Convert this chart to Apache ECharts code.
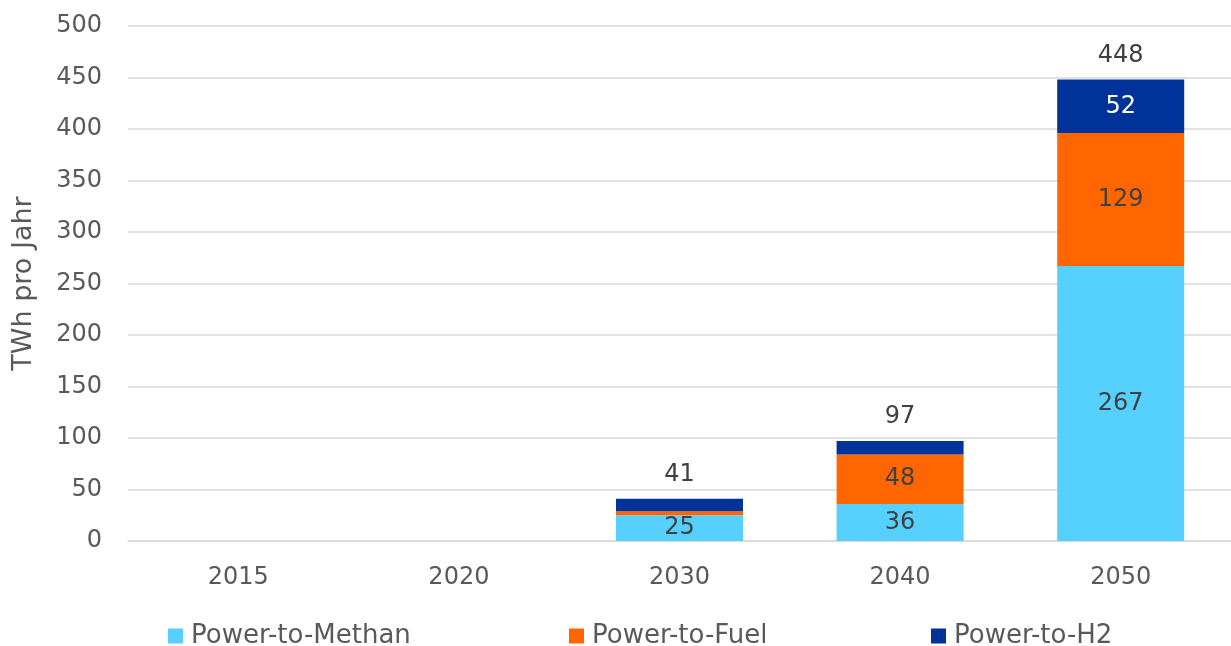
<!DOCTYPE html>
<html>
<head>
<meta charset="utf-8">
<script src="https://cdn.jsdelivr.net/npm/echarts@6/dist/echarts.min.js"></script>
<style>
  html, body { margin: 0; padding: 0; background: #fff; }
  #chart { width: 1231px; height: 646px; }
</style>
</head>
<body>
<div id="chart"></div>
<script>
const years = ['2015', '2020', '2030', '2040', '2050'];
const methan = [0, 0, 25, 36, 267];
const fuel = [0, 0, 4, 48, 129];
const h2 = [0, 0, 12, 13, 52];
const totals = [0, 0, 41, 97, 448];
const yTicks = [0, 50, 100, 150, 200, 250, 300, 350, 400, 450, 500];

const font = 'DejaVu Sans';
const grey = '#595959';
const dark = '#404040';

const legendItem = (name, left) => ({
  data: [name],
  left: left,
  top: 618,
  itemWidth: 15,
  itemHeight: 15,
  itemGap: 0,
  icon: 'rect',
  selectedMode: false,
  textStyle: { fontFamily: font, fontSize: 26, color: grey, padding: [0, 0, 0, 3] },
});

const chart = echarts.init(document.getElementById('chart'), null, { renderer: 'canvas' });

chart.setOption({
  animation: false,
  grid: { left: 128, right: 0, top: 26, bottom: 105, containLabel: false },
  legend: [
    legendItem('Power-to-Methan', 163),
    legendItem('Power-to-Fuel', 564),
    legendItem('Power-to-H2', 926),
  ],
  xAxis: {
    type: 'category',
    data: years,
    axisTick: { show: false },
    axisLine: { lineStyle: { color: '#d9d9d9', width: 1.5 } },
    axisLabel: { fontFamily: font, fontSize: 24, color: grey, margin: 25 },
  },
  yAxis: {
    type: 'value',
    min: yTicks[0],
    max: yTicks[yTicks.length - 1],
    interval: 50,
    name: 'TWh pro Jahr',
    nameLocation: 'middle',
    nameGap: 91,
    nameTextStyle: { fontFamily: font, fontSize: 27, color: grey },
    axisLine: { show: false },
    axisTick: { show: false },
    splitLine: { lineStyle: { color: '#d9d9d9', width: 1.5 } },
    axisLabel: { fontFamily: font, fontSize: 24, color: grey, margin: 26 },
  },
  series: [
    {
      name: 'Power-to-Methan',
      type: 'bar',
      stack: 'total',
      barWidth: 127,
      data: methan,
      itemStyle: { color: '#55d0ff' },
      label: {
        show: true,
        position: 'inside',
        fontFamily: font, fontSize: 24, color: dark,
        formatter: p => (p.value >= 10 ? p.value : ''),
      },
    },
    {
      name: 'Power-to-Fuel',
      type: 'bar',
      stack: 'total',
      data: fuel,
      itemStyle: { color: '#ff6600' },
      label: {
        show: true,
        position: 'inside',
        fontFamily: font, fontSize: 24, color: dark,
        formatter: p => (p.value >= 20 ? p.value : ''),
      },
    },
    {
      name: 'Power-to-H2',
      type: 'bar',
      stack: 'total',
      data: h2,
      itemStyle: { color: '#003399' },
      label: {
        show: true,
        position: 'inside',
        fontFamily: font, fontSize: 24, color: '#ffffff',
        formatter: p => (p.value >= 20 ? p.value : ''),
      },
    },
    {
      name: 'Summe',
      type: 'bar',
      stack: 'total',
      data: totals.map(() => 0),
      itemStyle: { color: 'transparent' },
      label: {
        show: true,
        position: 'top',
        distance: 12,
        fontFamily: font, fontSize: 24, color: dark,
        formatter: p => (totals[p.dataIndex] > 0 ? totals[p.dataIndex] : ''),
      },
    },
  ],
});
</script>
</body>
</html>
